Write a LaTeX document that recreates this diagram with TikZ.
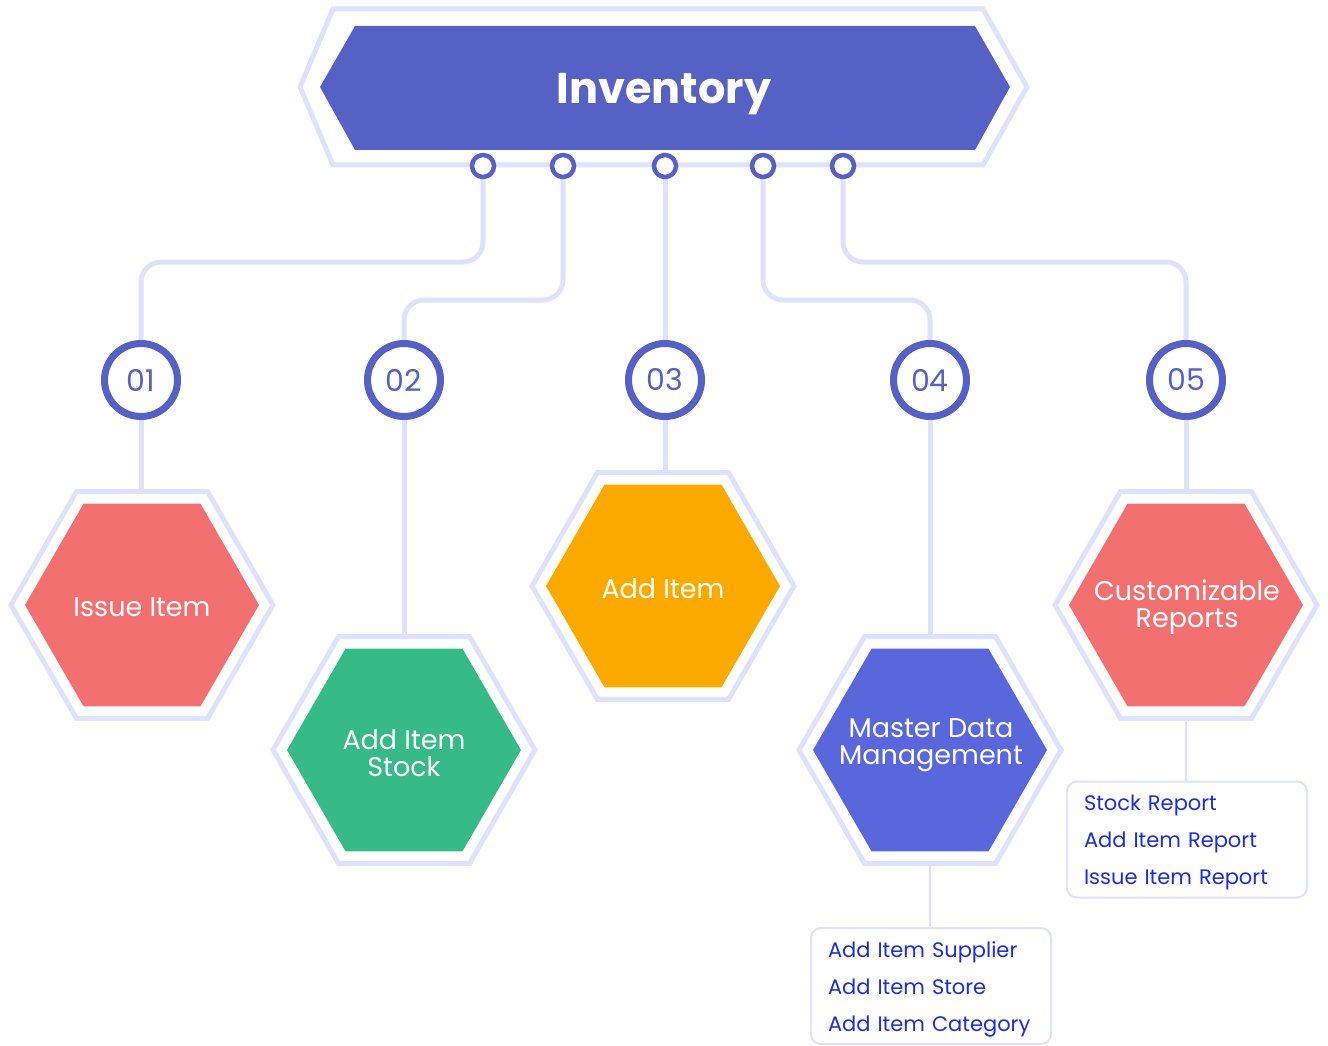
\documentclass[tikz,border=0pt]{standalone}
\usepackage{fontspec}
\setmainfont{Poppins}
\usetikzlibrary{shapes.geometric,backgrounds}
\definecolor{banner}{HTML}{5661C6}
\definecolor{lav}{HTML}{E0E1FD}
\definecolor{hred}{HTML}{F27070}
\definecolor{hgreen}{HTML}{36BA87}
\definecolor{horange}{HTML}{FCA900}
\definecolor{hblue}{HTML}{5967DC}
\definecolor{listblue}{HTML}{1C2ED8}
\begin{document}
\begin{tikzpicture}[x=1pt,y=-1pt,
  hexin/.style={regular polygon, regular polygon sides=6, minimum size=234pt, inner sep=0pt},
  hexout/.style={regular polygon, regular polygon sides=6, minimum size=262pt, inner sep=0pt,
    draw=lav, line width=5pt},
  hextext/.style={text=white, font=\fontsize{27}{27}\selectfont, align=center, inner sep=0pt},
  numc/.style={circle, draw=banner, line width=7pt, fill=white, minimum size=73pt, inner sep=0pt,
    text=banner, font=\fontsize{30}{30}\selectfont},
  portc/.style={circle, draw=banner, line width=4.5pt, fill=white, minimum size=22pt, inner sep=0pt},
  wire/.style={draw=lav, line width=5pt, rounded corners=20pt},
  stub/.style={draw=lav, line width=2.5pt},
  listbox/.style={draw=lav, line width=2pt, rounded corners=10pt, fill=white, text=listblue,
    font=\fontsize{21}{37}\selectfont, text width=206pt, inner xsep=17pt, align=left,
    minimum height=116pt}
]
\useasboundingbox (0,0) rectangle (1328,1046);
% banner
\draw[draw=lav, line width=5pt, fill=white] (300,87) -- (333,9) -- (983,9) -- (1027,87) -- (983,165) -- (333,165) -- cycle;
\fill[banner] (320,87) -- (355,26) -- (975,26) -- (1010,87) -- (975,150) -- (355,150) -- cycle;
\node[text=white, font=\fontsize{43}{43}\selectfont\bfseries, anchor=base, inner sep=0pt] (inv) at (664,103.5) {Inventory};
% ports
\node[portc] (p1) at (483,166) {};
\node[portc] (p2) at (563,166) {};
\node[portc] (p3) at (665,166) {};
\node[portc] (p4) at (763,166) {};
\node[portc] (p5) at (843,166) {};
% number circles
\node[numc] (c1) at (141,380) {01};
\node[numc] (c2) at (404,380) {02};
\node[numc] (c3) at (665,380) {03};
\node[numc] (c4) at (930,380) {04};
\node[numc] (c5) at (1186,380) {05};
% hexagons
\node[hexout] (h1o) at (142,605) {};
\node[hexin, fill=hred] (h1) at (142,605) {};
\node[hextext] (t1) at (142,607) {Issue Item};
\node[hexout] (h2o) at (404,750) {};
\node[hexin, fill=hgreen] (h2) at (404,750) {};
\node[hextext] (t2) at (404,753) {Add Item\\Stock};
\node[hexout] (h3o) at (663,586) {};
\node[hexin, fill=horange] (h3) at (663,586) {};
\node[hextext] (t3) at (663,589) {Add Item};
\node[hexout] (h4o) at (930,750) {};
\node[hexin, fill=hblue] (h4) at (930,750) {};
\node[hextext] (t4) at (931,745) {Master Data\\Management};
\node[hexout] (h5o) at (1186,605) {};
\node[hexin, fill=hred] (h5) at (1186,605) {};
\node[hextext] (t5) at (1187,607) {Customizable\\Reports};
% lists
\node[listbox] (b4) at (931,986) {\rule{0pt}{22pt}Add Item Supplier\\Add Item Store\\Add Item Category};
\node[listbox] (b5) at (1187,839.5) {\rule{0pt}{22pt}Stock Report\\Add Item Report\\Issue Item Report};
% connectors
\coordinate (ya) at (0,262);
\coordinate (yb) at (0,300);
\begin{scope}[on background layer]
\draw[wire] (p1.south) -- (p1 |- ya) -- (c1 |- ya) -- (c1.north);
\draw[wire] (p2.south) -- (p2 |- yb) -- (c2 |- yb) -- (c2.north);
\draw[wire] (p3.south) -- (c3.north);
\draw[wire] (p4.south) -- (p4 |- yb) -- (c4 |- yb) -- (c4.north);
\draw[wire] (p5.south) -- (p5 |- ya) -- (c5 |- ya) -- (c5.north);
\draw[wire] (c1.south) -- (c1.south |- h1o.north);
\draw[wire] (c2.south) -- (c2.south |- h2o.north);
\draw[wire] (c3.south) -- (c3.south |- h3o.north);
\draw[wire] (c4.south) -- (c4.south |- h4o.north);
\draw[wire] (c5.south) -- (c5.south |- h5o.north);
\draw[stub] (h4o.south) -- (h4o.south |- b4.north);
\draw[stub] (h5o.south) -- (h5o.south |- b5.north);
\end{scope}
\end{tikzpicture}
\end{document}
